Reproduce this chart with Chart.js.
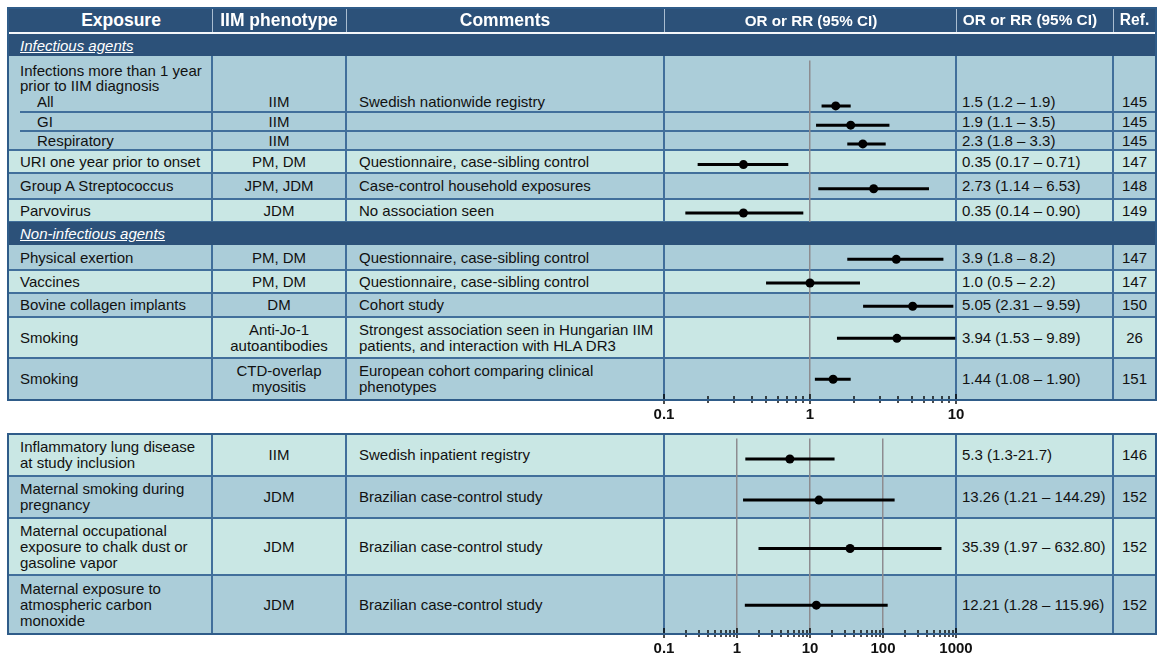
<!DOCTYPE html>
<html lang="en">
<head>
<meta charset="utf-8">
<title>Environmental exposures and IIM risk</title>
<script src="https://cdn.jsdelivr.net/npm/chart.js@4.4.1/dist/chart.umd.min.js"></script>
<style>
  html, body { margin: 0; padding: 0; background: #fff; }
  body { width: 1157px; height: 658px; overflow: hidden; position: relative;
         font-family: "Liberation Sans", Arial, sans-serif; color: #111; }
  .blk { position: absolute; box-sizing: border-box; }
  .txt { position: absolute; box-sizing: border-box; display: flex; align-items: center;
         font-size: 15px; line-height: 16px; white-space: pre; z-index: 2; }
  .ctr { justify-content: center; text-align: center; }
  .hd  { position: absolute; box-sizing: border-box; display: flex; align-items: center;
         justify-content: center; color: #fff; font-weight: bold; white-space: pre; z-index: 6; }
  .sec { position: absolute; box-sizing: border-box; display: flex; align-items: center;
         color: #fff; font-size: 15px; font-style: italic; text-decoration: underline;
         white-space: pre; z-index: 4; }
  canvas { position: absolute; z-index: 3; }
</style>
</head>
<body>
<canvas id="upperPlot"></canvas>
<canvas id="lowerPlot"></canvas>
<script>
// ---------- column headings ----------
const headerTitles = ['Exposure', 'IIM phenotype', 'Comments', 'OR or RR (95% CI)', 'OR or RR (95% CI)', 'Ref.'];

// ---------- upper panel: infectious and non-infectious agents ----------
const upperSections = ['Infectious agents', 'Non-infectious agents'];
const upperGroupTitle = 'Infections more than 1 year\nprior to IIM diagnosis';
const upperExposure = ['All', 'GI', 'Respiratory', 'URI one year prior to onset', 'Group A Streptococcus',
  'Parvovirus', 'Physical exertion', 'Vaccines', 'Bovine collagen implants', 'Smoking', 'Smoking'];
const upperPhenotype = ['IIM', 'IIM', 'IIM', 'PM, DM', 'JPM, JDM', 'JDM', 'PM, DM', 'PM, DM', 'DM',
  'Anti-Jo-1\nautoantibodies', 'CTD-overlap\nmyositis'];
const upperComment = ['Swedish nationwide registry', '', '', 'Questionnaire, case-sibling control',
  'Case-control household exposures', 'No association seen', 'Questionnaire, case-sibling control',
  'Questionnaire, case-sibling control', 'Cohort study',
  'Strongest association seen in Hungarian IIM\npatients, and interaction with HLA DR3',
  'European cohort comparing clinical\nphenotypes'];
const upperEstimate = [1.5, 1.9, 2.3, 0.35, 2.73, 0.35, 3.9, 1.0, 5.05, 3.94, 1.44];
const upperLow      = [1.2, 1.1, 1.8, 0.17, 1.14, 0.14, 1.8, 0.5, 2.31, 1.53, 1.08];
const upperHigh     = [1.9, 3.5, 3.3, 0.71, 6.53, 0.90, 8.2, 2.2, 9.59, 9.89, 1.90];
const upperCiText = ['1.5 (1.2 \u2013 1.9)', '1.9 (1.1 \u2013 3.5)', '2.3 (1.8 \u2013 3.3)',
  '0.35 (0.17 \u2013 0.71)', '2.73 (1.14 \u2013 6.53)', '0.35 (0.14 \u2013 0.90)', '3.9 (1.8 \u2013 8.2)',
  '1.0 (0.5 \u2013 2.2)', '5.05 (2.31 \u2013 9.59)', '3.94 (1.53 \u2013 9.89)', '1.44 (1.08 \u2013 1.90)'];
const upperRef = ['145', '145', '145', '147', '148', '149', '147', '147', '150', '26', '151'];
const upperAxisTicks  = [0.1, 1, 10];
const upperAxisLabels = ['0.1', '1', '10'];
const upperRefLines = [1];

// ---------- lower panel ----------
const lowerExposure = ['Inflammatory lung disease\nat study inclusion', 'Maternal smoking during\npregnancy',
  'Maternal occupational\nexposure to chalk dust or\ngasoline vapor',
  'Maternal exposure to\natmospheric carbon\nmonoxide'];
const lowerPhenotype = ['IIM', 'JDM', 'JDM', 'JDM'];
const lowerComment = ['Swedish inpatient registry', 'Brazilian case-control study',
  'Brazilian case-control study', 'Brazilian case-control study'];
const lowerEstimate = [5.3, 13.26, 35.39, 12.21];
const lowerLow      = [1.3, 1.21, 1.97, 1.28];
const lowerHigh     = [21.7, 144.29, 632.80, 115.96];
const lowerCiText = ['5.3 (1.3-21.7)', '13.26 (1.21 \u2013 144.29)', '35.39 (1.97 \u2013 632.80)',
  '12.21 (1.28 \u2013 115.96)'];
const lowerRef = ['146', '152', '152', '152'];
const lowerAxisTicks  = [0.1, 1, 10, 100, 1000];
const lowerAxisLabels = ['0.1', '1', '10', '100', '1000'];
const lowerRefLines = [1, 10, 100];

// ---------- layout ----------
const COL_X = [8, 212, 346, 664, 956, 1113, 1156];
const HEADER_BAND = [8, 32];
const upperSectionBands = [[34, 56], [222, 245]];
const upperGroupBand = [56, 92];
const upperRowBands = [[92, 112], [112, 131], [131, 150], [150, 173], [173, 199], [199, 222],
  [245, 270], [270, 293], [293, 317], [317, 358], [358, 400]];
const upperShade = [1, 1, 1, 0, 1, 0, 1, 0, 1, 0, 1];
const upperSubRows = 3;
const lowerRowBands = [[434, 476], [476, 518], [518, 575], [575, 634]];
const lowerShade = [0, 1, 0, 1];

const SHADE = ['#c9e7e4', '#abcdd9'];
const NAVY = '#2c5179';
const RULE = '#416f9b';
const EDGE = '#2f5c89';
const FONT = '"Liberation Sans", Arial, sans-serif';

function block(x, y, w, h, css, text, cls) {
  const d = document.createElement('div');
  d.className = cls || 'blk';
  Object.assign(d.style, { left: x + 'px', top: y + 'px', width: w + 'px', height: h + 'px' }, css || {});
  if (text != null) d.textContent = text;
  document.body.appendChild(d);
  return d;
}
const hRule = (x0, x1, y, color, z) => block(x0, y - 1, x1 - x0, 2, { background: color || RULE, zIndex: z || 1 });
const vRule = (x, y0, y1, color, w, z) => block(x - (w || 2) / 2, y0, w || 2, y1 - y0, { background: color || RULE, zIndex: z || 1 });

function frame(top, bottom) {
  block(COL_X[0] - 1, top - 1, COL_X[6] - COL_X[0] + 2, bottom - top + 2,
        { border: '2px solid ' + EDGE, zIndex: 7 });
}

function rowTexts(band, i, t, indent) {
  const [a, b] = band, h = b - a;
  block(COL_X[0] + (indent ? 29 : 12), a, COL_X[1] - COL_X[0] - 14, h, {}, t.exposure[i], 'txt');
  block(COL_X[1], a, COL_X[2] - COL_X[1], h, {}, t.phenotype[i], 'txt ctr');
  block(COL_X[2] + 13, a, COL_X[3] - COL_X[2] - 14, h, {}, t.comment[i], 'txt');
  block(COL_X[4] + 6, a, COL_X[5] - COL_X[4] - 6, h, {}, t.ci[i], 'txt');
  block(COL_X[5], a, COL_X[6] - COL_X[5], h, {}, t.ref[i], 'txt ctr');
}

function buildBody(t) {
  const first = t.bands[0][0], last = t.bands[t.bands.length - 1][1];
  const top = t.groupBand ? t.groupBand[0] : first;
  if (t.groupBand) {
    block(COL_X[0], t.groupBand[0], COL_X[6] - COL_X[0], t.groupBand[1] - t.groupBand[0],
          { background: SHADE[t.shade[0]] });
    block(COL_X[0] + 12, t.groupBand[0] + 7, 190, 31, { lineHeight: '15px', alignItems: 'flex-start' },
          t.groupTitle, 'txt');
  }
  t.bands.forEach((band, i) => {
    block(COL_X[0], band[0], COL_X[6] - COL_X[0], band[1] - band[0], { background: SHADE[t.shade[i]] });
    const sub = i < (t.subRows || 0);
    if (i < t.bands.length - 1) {
      const subLine = i < (t.subRows || 0) - 1;
      hRule(subLine ? COL_X[0] + 12 : COL_X[0], COL_X[6], band[1]);
    }
    rowTexts(band, i, t, sub);
  });
  for (let k = 1; k < COL_X.length - 1; k++) vRule(COL_X[k], top, last);
}

// ---------- header + section bands ----------
block(COL_X[0], HEADER_BAND[0], COL_X[6] - COL_X[0], HEADER_BAND[1] - HEADER_BAND[0],
      { background: NAVY, zIndex: 5 });
block(COL_X[0] + 2, HEADER_BAND[1], COL_X[6] - COL_X[0] - 4, 2, { background: '#f4f7fa', zIndex: 5 });
const headerSizes = [17.5, 17.5, 17.5, 15.2, 15.4, 15.6];
const headerSpans = [[30, 212], [212, 346], [346, 664], [664, 958], [956, 1104], [1113, 1156]];
headerTitles.forEach((title, k) => {
  block(headerSpans[k][0], HEADER_BAND[0], headerSpans[k][1] - headerSpans[k][0],
        HEADER_BAND[1] - HEADER_BAND[0], { fontSize: headerSizes[k] + 'px' }, title, 'hd');
});
for (let k = 1; k < COL_X.length - 1; k++) vRule(COL_X[k], HEADER_BAND[0], HEADER_BAND[1], '#a9bdd1', 1, 6);

upperSections.forEach((name, k) => {
  const [a, b] = upperSectionBands[k];
  block(COL_X[0], a, COL_X[6] - COL_X[0], b - a, { background: NAVY, paddingLeft: '12px' }, name, 'sec');
});

buildBody({ bands: upperRowBands, shade: upperShade, subRows: upperSubRows,
  groupBand: upperGroupBand, groupTitle: upperGroupTitle,
  exposure: upperExposure, phenotype: upperPhenotype, comment: upperComment,
  ci: upperCiText, ref: upperRef });
buildBody({ bands: lowerRowBands, shade: lowerShade,
  exposure: lowerExposure, phenotype: lowerPhenotype, comment: lowerComment,
  ci: lowerCiText, ref: lowerRef });
frame(HEADER_BAND[0], upperRowBands[upperRowBands.length - 1][1]);
frame(lowerRowBands[0][0], lowerRowBands[lowerRowBands.length - 1][1]);

// ---------- forest plots ----------
const PAD = 30, AXIS_H = 32;

// tick marks that straddle the axis line
const crossTicks = {
  id: 'crossTicks',
  afterDraw(chart, args, opts) {
    const sc = chart.scales.x, ctx = chart.ctx, y = chart.chartArea.bottom;
    ctx.save();
    ctx.strokeStyle = '#000';
    ctx.lineWidth = 1.4;
    sc.ticks.forEach(t => {
      const x = Math.round(sc.getPixelForValue(t.value));
      const major = opts.majors.includes(t.value);
      ctx.beginPath();
      ctx.moveTo(x, y - (major ? 6 : 4));
      ctx.lineTo(x, y + (major ? 4 : 3));
      ctx.stroke();
    });
    ctx.restore();
  }
};

function forest(id, o) {
  const plotLeft = COL_X[3], plotW = COL_X[4] - COL_X[3];
  const top = o.top, plotH = o.bottom - o.top;
  const cv = document.getElementById(id);
  cv.width = plotW + 2 * PAD;
  cv.height = plotH + AXIS_H;
  Object.assign(cv.style, { left: (plotLeft - PAD) + 'px', top: top + 'px' });

  const yMid = o.bands.map(([a, b]) => (a + b) / 2 - top);
  const tickVals = [];
  for (let k = 0; k < o.ticks.length - 1; k++)
    for (let m = 1; m < 10; m++) tickVals.push(+(o.ticks[k] * m).toPrecision(6));
  tickVals.push(o.ticks[o.ticks.length - 1]);
  const labelFor = new Map(o.ticks.map((v, i) => [v, o.labels[i]]));

  const datasets = [{
    data: o.est.map((v, i) => ({ x: v, y: yMid[i] })),
    pointRadius: 4.5, pointBackgroundColor: '#000', pointBorderWidth: 0, showLine: false
  }];
  o.low.forEach((lo, i) => datasets.push({
    data: [{ x: lo, y: yMid[i] }, { x: o.high[i], y: yMid[i] }],
    showLine: true, borderColor: '#000', borderWidth: 3, borderCapStyle: 'butt', pointRadius: 0
  }));

  new Chart(cv, {
    type: 'scatter',
    data: { datasets },
    options: {
      responsive: false, animation: false, events: [], devicePixelRatio: 1,
      layout: { padding: { left: PAD, right: PAD, top: 0, bottom: 0 } },
      plugins: { legend: { display: false }, tooltip: { enabled: false },
                 crossTicks: { majors: o.ticks } },
      scales: {
        x: {
          type: 'logarithmic', min: o.ticks[0], max: o.ticks[o.ticks.length - 1],
          afterBuildTicks: s => { s.ticks = tickVals.map(v => ({ value: v })); },
          afterFit: s => { s.height = AXIS_H; },
          ticks: { autoSkip: false, maxRotation: 0, padding: 6, color: '#111',
                   font: { family: FONT, size: 15, weight: 'bold' },
                   callback: v => labelFor.has(v) ? labelFor.get(v) : '' },
          grid: { drawTicks: false, lineWidth: 1.5,
                  color: c => (c.tick && o.refLines.includes(c.tick.value)) ? '#8d8c90' : 'rgba(0,0,0,0)' },
          border: { display: true, color: '#000', width: 2 }
        },
        y: { type: 'linear', display: false, min: 0, max: plotH, reverse: true }
      }
    },
    plugins: [crossTicks]
  });
}

forest('upperPlot', { top: upperGroupBand[0], bottom: upperRowBands[upperRowBands.length - 1][1],
  bands: upperRowBands, est: upperEstimate, low: upperLow, high: upperHigh,
  ticks: upperAxisTicks, labels: upperAxisLabels, refLines: upperRefLines });
forest('lowerPlot', { top: lowerRowBands[0][0], bottom: lowerRowBands[lowerRowBands.length - 1][1],
  bands: lowerRowBands, est: lowerEstimate, low: lowerLow, high: lowerHigh,
  ticks: lowerAxisTicks, labels: lowerAxisLabels, refLines: lowerRefLines });
</script>
</body>
</html>
